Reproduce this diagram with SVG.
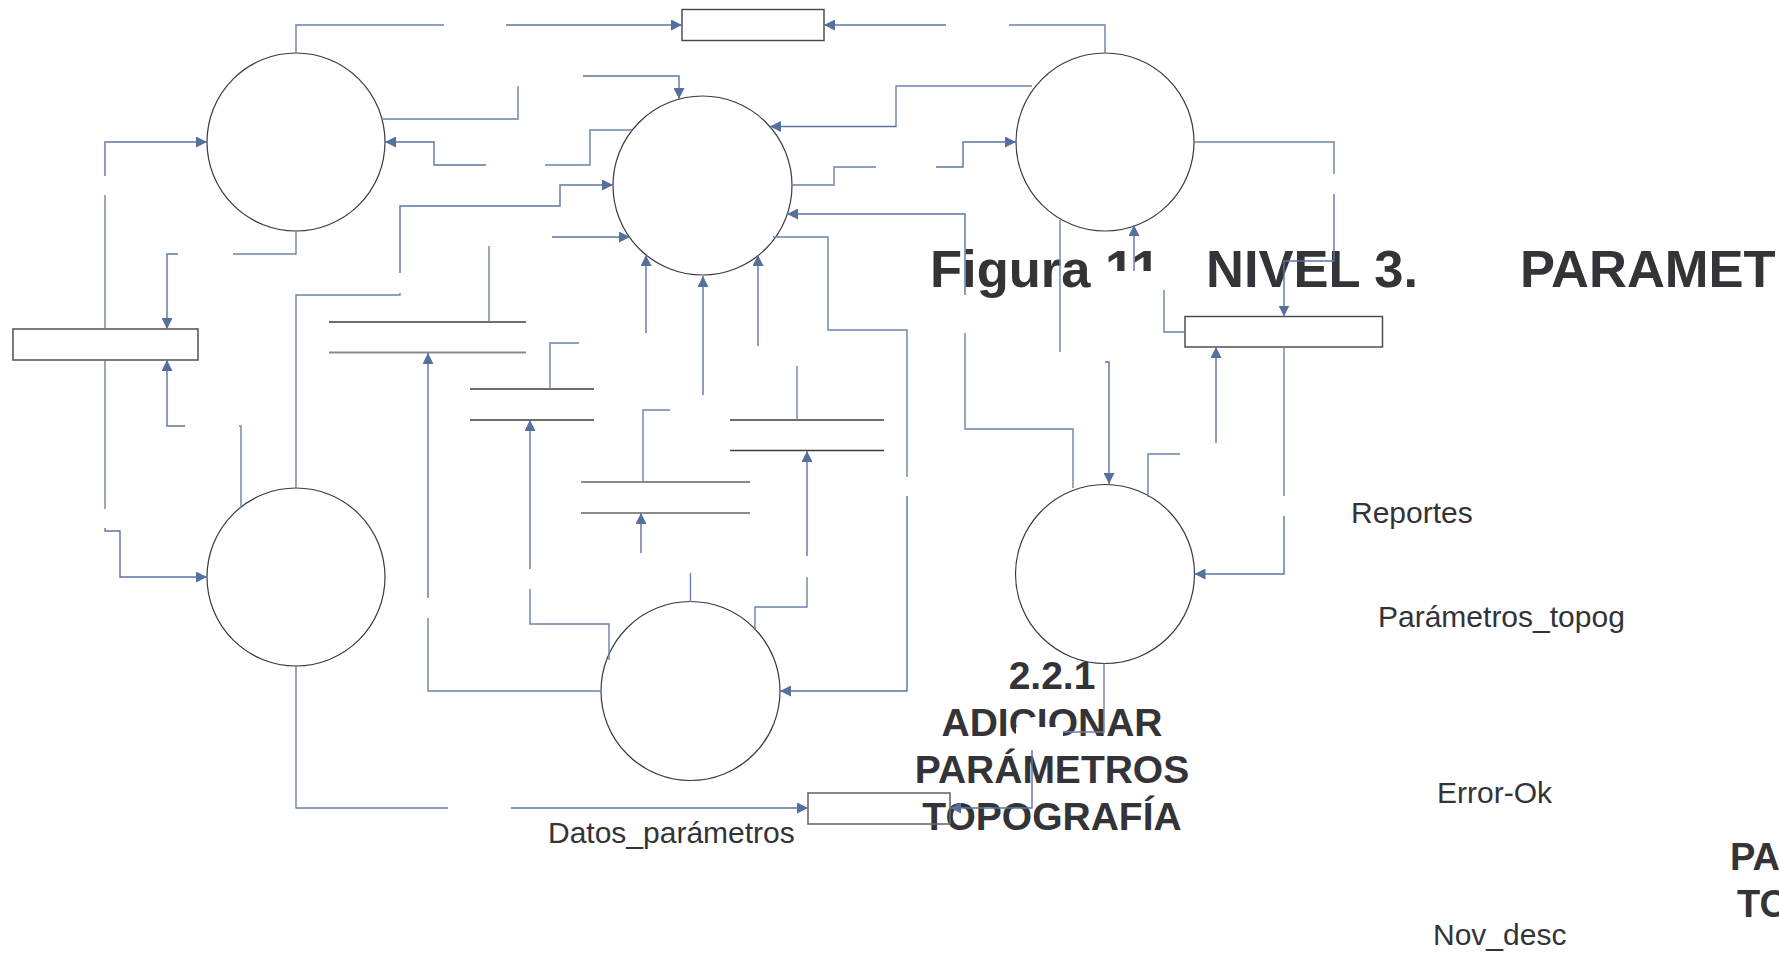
<svg xmlns="http://www.w3.org/2000/svg" width="1779" height="956" viewBox="0 0 1779 956">
<defs>
<marker id="ah" markerUnits="userSpaceOnUse" markerWidth="12" markerHeight="11" refX="11" refY="5.5" orient="auto">
<path d="M0,0 L11,5.5 L0,11 z" fill="#55709d"/>
</marker>
<style>
.bubble{fill:#fff;stroke:#3a3a3a;stroke-width:1.2}
.store{fill:#fff;stroke:#444;stroke-width:1.4}
.sl{stroke:#3c3c3c;stroke-width:1.3}
.sg{stroke:#8a8a8a;stroke-width:2}
.c{fill:none;stroke:#6a82ab;stroke-width:1.4}
.ca{fill:none;stroke:#5a75a2;stroke-width:1.4;marker-end:url(#ah)}
.t{font-family:"Liberation Sans",Arial,sans-serif;fill:#333338}
.b{font-weight:bold}
.cover{fill:#fff;stroke:none}
</style>
</defs>
<rect width="1779" height="956" fill="#fff"/>

<g id="labels">
<text class="t b" font-size="52.5" y="287"><tspan x="930">Figura 11</tspan><tspan x="1206">NIVEL 3.</tspan><tspan x="1520">PARAMET</tspan></text>
<text class="t b" font-size="39" text-anchor="middle" x="1052" y="689">2.2.1</text>
<text class="t b" font-size="39" text-anchor="middle" x="1052" y="736">ADICIONAR</text>
<text class="t b" font-size="39" text-anchor="middle" x="1052" y="783">PARÁMETROS</text>
<text class="t b" font-size="39" text-anchor="middle" x="1052" y="830">TOPOGRAFÍA</text>
<text class="t b" font-size="38" x="1730" y="870">PA</text>
<text class="t b" font-size="38" x="1737" y="917">TO</text>
<text class="t" font-size="30" x="1351" y="523">Reportes</text>
<text class="t" font-size="30" x="1378" y="627">Parámetros_topog</text>
<text class="t" font-size="30" x="1437" y="803">Error-Ok</text>
<text class="t" font-size="30" x="1433" y="945">Nov_desc</text>
<text class="t" font-size="30" x="548" y="843">Datos_parámetros</text>
<rect class="cover" x="1098" y="271" width="75" height="21"/>
<rect class="cover" x="1016" y="727" width="47" height="23"/>
</g>

<g id="p1"><circle class="bubble" cx="296" cy="142" r="89"/></g>
<g id="p2"><circle class="bubble" cx="702.5" cy="185.5" r="89.5"/></g>
<g id="p3"><circle class="bubble" cx="1105" cy="142" r="89"/></g>
<g id="p4"><circle class="bubble" cx="296" cy="577" r="89"/></g>
<g id="p5"><circle class="bubble" cx="690.5" cy="691" r="89.5"/></g>
<g id="p6"><circle class="bubble" cx="1105" cy="574" r="89.5"/></g>

<g id="d-top"><rect class="store" x="682" y="9.5" width="142" height="31"/></g>
<g id="d-left"><rect class="store" x="13" y="329" width="185" height="31" style="stroke:#5a5a5a;stroke-width:1.6"/></g>
<g id="d-right"><rect class="store" x="1185" y="316.5" width="197.5" height="30.5"/></g>
<g id="d-bottom"><rect class="store" x="808" y="793" width="142" height="31" style="stroke:#6a6a6a;stroke-width:1.6;fill:none"/></g>

<g id="s1"><line class="sl" x1="329" y1="322" x2="526" y2="322"/><line class="sg" x1="329" y1="352.5" x2="526" y2="352.5"/></g>
<g id="s2"><line class="sl" x1="470" y1="389" x2="594" y2="389"/><line class="sl" x1="470" y1="420" x2="594" y2="420"/></g>
<g id="s3"><line class="sg" x1="581" y1="482" x2="750" y2="482"/><line class="sg" x1="581" y1="513" x2="750" y2="513"/></g>
<g id="s4"><line class="sl" x1="730" y1="420" x2="884" y2="420"/><line class="sl" x1="730" y1="450.5" x2="884" y2="450.5"/></g>

<g id="connectors">
<polyline class="c" points="296,53 296,25 444,25"/>
<polyline class="ca" points="506,25 682,25"/>
<polyline class="c" points="1105,53 1105,25 1009,25"/>
<polyline class="ca" points="946,25 824,25"/>
<polyline class="c" points="381,119 518,119 518,86"/>
<polyline class="c" points="632,130 590,130 590,165 545,165"/>
<polyline class="ca" points="486,165 434,165 434,142 385,142"/>
<polyline class="ca" points="105,176 105,142 207,142"/>
<polyline class="c" points="105,195 105,329"/>
<polyline class="c" points="296,231 296,254 233,254"/>
<polyline class="ca" points="178,254 167,254 167,329"/>
<polyline class="c" points="105,360 105,509"/>
<polyline class="ca" points="105,528 105,531 120,531 120,577 207,577"/>
<polyline class="c" points="241,508 241,426 239,426"/>
<polyline class="ca" points="185,426 167,426 167,360"/>
<polyline class="c" points="296,488 296,295 400,295 400,293"/>
<polyline class="ca" points="400,273 400,206 560,206 560,185 613,185"/>
<line class="c" x1="489" y1="246" x2="489" y2="322"/>
<polyline class="ca" points="552,237 630,237"/>
<polyline class="ca" points="428,598 428,353"/>
<polyline class="c" points="601,691 428,691 428,618"/>
<polyline class="c" points="579,343 550,343 550,389"/>
<polyline class="ca" points="530,569 530,420"/>
<polyline class="c" points="609,660 609,624 530,624 530,589"/>
<polyline class="c" points="670,410 643,410 643,482"/>
<polyline class="ca" points="641,553 641,513"/>
<line class="c" x1="690.5" y1="573" x2="690.5" y2="602"/>
<polyline class="ca" points="703,395 703,276"/>
<polyline class="ca" points="758,346 758,255"/>
<polyline class="ca" points="646,333 646,255"/>
<line class="c" x1="797" y1="366" x2="797" y2="420"/>
<polyline class="ca" points="807,556 807,451"/>
<polyline class="c" points="755,630 755,607 807,607 807,577"/>
<polyline class="c" points="773,237 828,237 828,330 907,330 907,477"/>
<polyline class="ca" points="907,496 907,691 780,691"/>
<polyline class="ca" points="965,295 965,214 787,214"/>
<polyline class="c" points="1073,488 1073,429 965,429 965,333"/>
<polyline class="c" points="792,185 834,185 834,167 876,167"/>
<polyline class="ca" points="936,167 963,167 963,142 1016,142"/>
<polyline class="c" points="1032,86 896,86 896,126"/>
<polyline class="ca" points="896,126 896,126.5 770,126.5"/>
<polyline class="ca" points="583,76 679,76 679,99"/>
<polyline class="c" points="1194,142 1334,142 1334,174"/>
<polyline class="ca" points="1334,194 1334,261 1284,261 1284,316.5"/>
<polyline class="ca" points="1134,271 1134,225"/>
<polyline class="c" points="1185,332 1164,332 1164,290"/>
<line class="c" x1="1060" y1="220" x2="1060" y2="352"/>
<polyline class="ca" points="1105,362 1109,362 1109,484"/>
<polyline class="ca" points="1216,443 1216,347"/>
<polyline class="c" points="1148,497 1148,454 1180,454"/>
<polyline class="c" points="1284,347 1284,496"/>
<polyline class="ca" points="1284,516 1284,574 1194.5,574"/>
<polyline class="c" points="1104,663.5 1104,732 1063,732"/>
<polyline class="ca" points="1032,750 1032,808 950,808"/>
<polyline class="c" points="296,666 296,808 448,808"/>
<polyline class="ca" points="511,808 808,808"/>
</g>
</svg>
